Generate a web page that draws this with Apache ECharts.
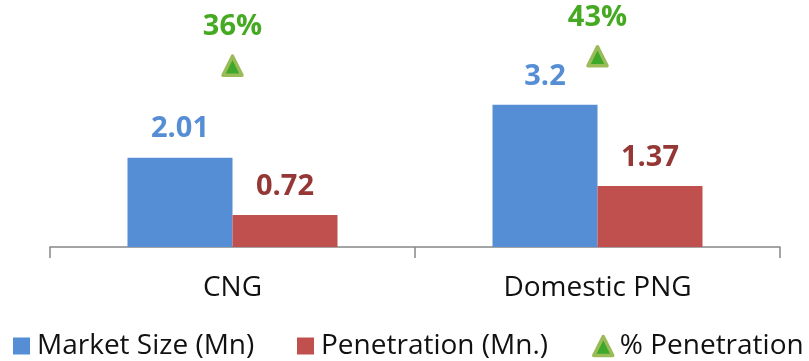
<!DOCTYPE html>
<html>
<head>
<meta charset="utf-8">
<script src="https://cdn.jsdelivr.net/npm/echarts@6/dist/echarts.min.js"></script>
<style>
  html, body { margin: 0; padding: 0; background: #ffffff; }
  #chart { width: 809px; height: 361px; }
</style>
</head>
<body>
<div id="chart"></div>
<script>
// Gas market segments
var categories = ['CNG', 'Domestic PNG'];
var marketSize = [2.01, 3.2];        // Mn
var penetration = [0.72, 1.37];      // Mn
var penetrationPct = [36, 43];       // %

var FONT = '"Open Sans", "Noto Sans", sans-serif';

var chart = echarts.init(document.getElementById('chart'), null, { renderer: 'canvas' });

var triangleStyle = { color: '#3EA82B', borderColor: '#9BBB59', borderWidth: 3.5, borderJoin: 'round', opacity: 1 };

function legendAt(left, name, icon, w, h, extraStyle) {
  var lg = {
    data: [{ name: name, icon: icon }],
    left: left,
    top: 332,
    itemWidth: w,
    itemHeight: h,
    itemGap: 0,
    padding: 0,
    selectedMode: false,
    textStyle: { fontFamily: FONT, fontSize: 28, color: '#111111', padding: [0, 0, 0, 2] }
  };
  if (extraStyle) lg.itemStyle = extraStyle;
  return lg;
}

chart.setOption({
  animation: false,
  backgroundColor: '#ffffff',
  grid: { left: 50, right: 29, top: 47, bottom: 114, containLabel: false },
  legend: [
    legendAt(13, 'Market Size (Mn)', 'rect', 17, 17),
    legendAt(297, 'Penetration (Mn.)', 'rect', 17, 17),
    legendAt(592, '% Penetration', 'triangle', 19, 19, triangleStyle)
  ],
  xAxis: {
    type: 'category',
    data: categories,
    axisLine: { lineStyle: { color: '#868686', width: 1.5 } },
    axisTick: { show: true, length: 11, lineStyle: { color: '#868686', width: 1.5 } },
    axisLabel: { margin: 27, fontFamily: FONT, fontSize: 28, color: '#111111' }
  },
  yAxis: [
    { type: 'value', min: 0, max: 4.5, show: false },
    { type: 'value', min: -100, max: 50, show: false }
  ],
  series: [
    {
      name: 'Market Size (Mn)',
      type: 'bar',
      data: marketSize,
      barWidth: 105,
      barGap: '0%',
      itemStyle: { color: '#558ED5' },
      label: {
        show: true, position: 'top', distance: 14,
        fontFamily: FONT, fontSize: 29, fontWeight: 'bold', color: '#558ED5'
      }
    },
    {
      name: 'Penetration (Mn.)',
      type: 'bar',
      data: penetration,
      barWidth: 105,
      barGap: '0%',
      itemStyle: { color: '#C0504D' },
      label: {
        show: true, position: 'top', distance: 14,
        fontFamily: FONT, fontSize: 29, fontWeight: 'bold', color: '#953735'
      }
    },
    {
      name: '% Penetration',
      type: 'scatter',
      yAxisIndex: 1,
      data: penetrationPct,
      symbol: 'triangle',
      symbolSize: [19, 19],
      itemStyle: triangleStyle,
      label: {
        show: true, position: 'top', distance: 13,
        formatter: '{c}%',
        fontFamily: FONT, fontSize: 29, fontWeight: 'bold', color: '#45AA22'
      }
    }
  ]
});
</script>
</body>
</html>
